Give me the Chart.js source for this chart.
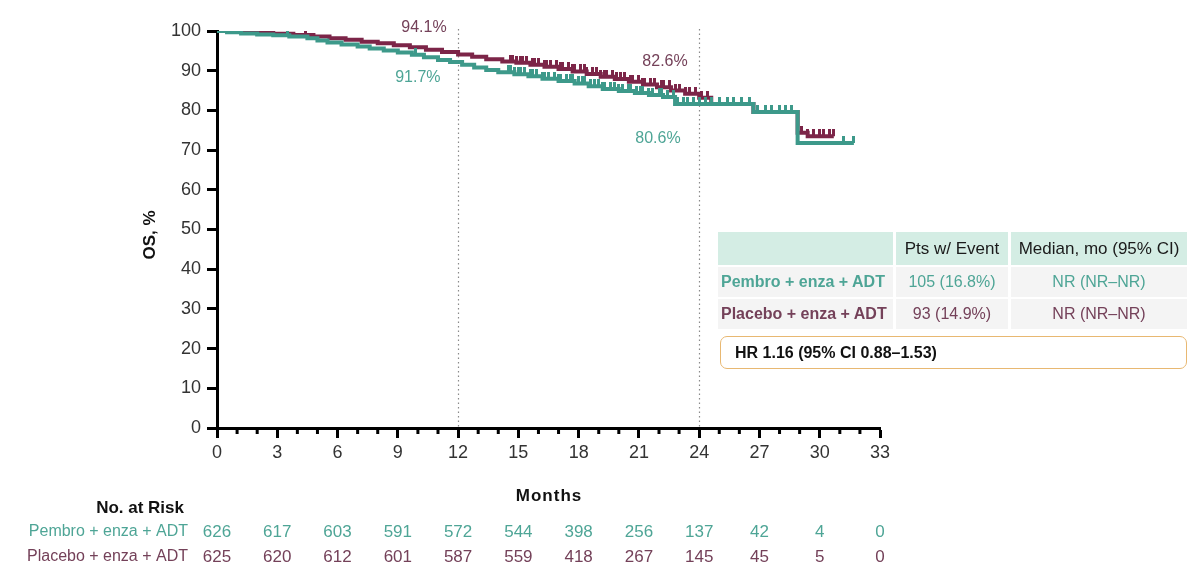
<!DOCTYPE html>
<html>
<head>
<meta charset="utf-8">
<script src="https://cdn.jsdelivr.net/npm/chart.js@4.4.1/dist/chart.umd.min.js"></script>
<style>
    body { margin: 0; background: #fff; font-family: "Liberation Sans", Arial, sans-serif; }
    #wrap { position: relative; width: 1200px; height: 574px; }
    #stats { position: absolute; left: 718px; top: 232px; width: 469px; }
    #stats table { border-collapse: separate; border-spacing: 3px 2px; margin: -2px -3px; font-size: 16px; }
    #stats th { background: #d4ede4; font-weight: normal; color: #1a1a1a; height: 33px; padding: 0; font-size: 17px; }
    #stats td { background: #f4f4f4; height: 30px; padding: 0; text-align: center; }
    #stats td.arm { text-align: left; font-weight: bold; padding-left: 3px; }
    #hr { margin-top: 7px; border: 1.5px solid #e8b872; border-radius: 7px; height: 31px; line-height: 31px;
          padding-left: 14px; font-weight: bold; font-size: 16px; color: #111; margin-left: 2px; }
</style>
</head>
<body>
<div id="wrap">
    <canvas id="km" width="1200" height="574"></canvas>
    <div id="stats"></div>
</div>
<script>
// --- data ---
const pembroMonths = [0, 0.5, 1.2, 2.0, 2.8, 3.6, 4.5, 5.0, 5.5, 6.2, 7.0, 7.6, 8.3, 9.0, 9.7, 10.3, 11.0, 11.6, 12.2, 12.8,
    13.4, 14.0, 14.8, 15.5, 16.2, 17.0, 17.8, 18.5, 19.2, 20.0, 20.8, 21.5, 22.2, 22.8, 26.7, 28.9, 31.7];
const pembroOS = [100, 99.7, 99.4, 99.1, 98.9, 98.6, 98.2, 97.6, 97.1, 96.6, 96.1, 95.6, 95.1, 94.6, 94.0, 93.4, 92.7, 92.2, 91.5, 90.8,
    90.2, 89.6, 89.1, 88.6, 88.0, 87.4, 86.8, 86.1, 85.4, 84.9, 84.4, 83.9, 83.4, 81.6, 79.6, 71.8, 71.8];
const placeboMonths = [0, 0.8, 1.8, 2.8, 3.8, 4.8, 5.6, 6.4, 7.2, 8.0, 8.8, 9.6, 10.4, 11.2, 12.0, 12.7, 13.4, 14.2, 14.9,
    15.6, 16.3, 17.0, 17.7, 18.4, 19.1, 19.8, 20.5, 21.2, 21.9, 22.6, 23.3, 24.0, 24.6, 26.7, 28.9, 29.4, 30.7];
const placeboOS = [100, 99.8, 99.6, 99.3, 99.0, 98.6, 98.2, 97.8, 97.3, 96.9, 96.4, 95.9, 95.3, 94.7, 94.1, 93.5, 92.9, 92.3, 92.0,
    91.5, 91.0, 90.4, 89.8, 89.2, 88.5, 87.9, 87.2, 86.5, 85.8, 85.0, 84.2, 83.2, 81.6, 79.6, 74.4, 73.5, 73.5];

// censoring marks (dense from ~14.5 months on)
const pembroCensor = [3.5, 9.9, 14.5, 14.6, 14.8, 15.0, 15.1, 15.3, 15.6, 15.7, 15.9, 16.2, 16.3, 16.5, 16.8, 17.0, 17.1,
    17.4, 17.6, 17.7, 18.0, 18.2, 18.3, 18.6, 18.8, 19.0, 19.2, 19.3, 19.6, 19.8, 20.0, 20.2, 20.5, 20.6, 20.9, 21.1, 21.2,
    21.5, 21.7, 22.0, 22.1, 22.4, 22.7, 22.9, 23.2, 23.4, 23.7, 24.0, 24.3, 24.6, 25.0, 25.4, 25.7, 26.1, 26.5, 26.9,
    27.3, 27.6, 28.0, 28.3, 28.6, 31.2, 31.7];
const placeboCensor = [4.4, 14.6, 14.7, 14.9, 15.1, 15.2, 15.4, 15.7, 15.8, 16.0, 16.3, 16.4, 16.6, 16.9, 17.1, 17.2,
    17.5, 17.7, 17.8, 18.1, 18.3, 18.4, 18.7, 18.9, 19.1, 19.3, 19.4, 19.7, 19.9, 20.1, 20.3, 20.6, 20.7, 21.0, 21.2,
    21.3, 21.6, 21.8, 22.1, 22.2, 22.5, 22.8, 23.0, 23.3, 23.5, 23.8, 24.1, 24.4, 29.1, 29.4, 29.7, 30.0, 30.2, 30.5, 30.7];

const riskMonths = [0, 3, 6, 9, 12, 15, 18, 21, 24, 27, 30, 33];
const riskPembro = [626, 617, 603, 591, 572, 544, 398, 256, 137, 42, 4, 0];
const riskPlacebo = [625, 620, 612, 601, 587, 559, 418, 267, 145, 45, 5, 0];

const armNames = ['Pembro + enza + ADT', 'Placebo + enza + ADT'];
const armEvents = ['105 (16.8%)', '93 (14.9%)'];
const armMedian = ['NR (NR\u2013NR)', 'NR (NR\u2013NR)'];
const hrText = 'HR 1.16 (95% CI 0.88\u20131.53)';

const TEAL = '#3d998a';
const MAROON = '#7c2548';
const TEAL_TXT = '#4ea596';
const MAROON_TXT = '#744159';
const FONT = '"Liberation Sans", Arial, sans-serif';

// stats box
let html = '<table><tr><th style="width:175px"></th><th style="width:112px">Pts w/ Event</th><th style="width:176px">Median, mo (95% CI)</th></tr>';
armNames.forEach((name, i) => {
    const c = i === 0 ? TEAL_TXT : MAROON_TXT;
    html += `<tr style="color:${c}"><td class="arm">${name}</td><td>${armEvents[i]}</td><td>${armMedian[i]}</td></tr>`;
});
html += `</table><div id="hr">${hrText}</div>`;
document.getElementById('stats').innerHTML = html;

// value of the KM step function at time t
function stepAt(months, vals, t) {
    let v = vals[0];
    for (let i = 0; i < months.length; i++) { if (months[i] <= t) v = vals[i]; }
    return v;
}

// upward censor tick
function tickMark(color) {
    const c = document.createElement('canvas');
    c.width = 3; c.height = 14;
    const g = c.getContext('2d');
    g.fillStyle = color;
    g.fillRect(0, 0, 3, 7);
    return c;
}

const kmPlugin = {
    id: 'kmExtras',
    beforeDatasetsDraw(chart) {
        const { ctx, scales: { x, y } } = chart;
        ctx.save();
        ctx.strokeStyle = '#8a8a8a';
        ctx.lineWidth = 1.2;
        ctx.setLineDash([1.5, 3]);
        [12, 24].forEach(m => {
            const px = Math.round(x.getPixelForValue(m)) + 0.5;
            ctx.beginPath();
            ctx.moveTo(px, y.getPixelForValue(100.5));
            ctx.lineTo(px, y.getPixelForValue(0));
            ctx.stroke();
        });
        ctx.restore();
    },
    afterDraw(chart) {
        const { ctx, scales: { x, y } } = chart;
        ctx.save();
        // minor ticks
        ctx.fillStyle = '#000';
        const y0 = y.getPixelForValue(0);
        for (let m = 1; m < 33; m++) {
            if (m % 3 === 0) continue;
            const px = x.getPixelForValue(m);
            ctx.fillRect(px - 1.5, y0, 3, 6);
        }
        // percentage labels
        ctx.font = '16px ' + FONT;
        ctx.textAlign = 'center';
        ctx.textBaseline = 'middle';
        [['94.1%', 10.3, 100.8, MAROON_TXT], ['91.7%', 10.0, 88.2, TEAL_TXT],
         ['82.6%', 22.3, 92.4, MAROON_TXT], ['80.6%', 21.95, 73.0, TEAL_TXT]].forEach(l => {
            ctx.fillStyle = l[3];
            ctx.fillText(l[0], x.getPixelForValue(l[1]), y.getPixelForValue(l[2]));
        });
        // axis titles
        ctx.fillStyle = '#111';
        ctx.font = 'bold 17px ' + FONT;
        ctx.save();
        ctx.translate(150, 235);
        ctx.rotate(-Math.PI / 2);
        ctx.fillText('OS, %', 0, 0);
        ctx.restore();
        ctx.letterSpacing = '1px';
        ctx.fillText('Months', 549, 496);
        ctx.letterSpacing = '0px';
        // at-risk table
        ctx.textAlign = 'right';
        ctx.fillText('No. at Risk', 184, 508);
        ctx.font = '16px ' + FONT;
        ctx.fillStyle = TEAL_TXT;
        ctx.fillText(armNames[0], 188, 532);
        ctx.fillStyle = MAROON_TXT;
        ctx.fillText(armNames[1], 188, 557);
        ctx.font = '17px ' + FONT;
        ctx.textAlign = 'center';
        riskMonths.forEach((m, i) => {
            const px = x.getPixelForValue(m);
            ctx.fillStyle = TEAL_TXT;
            ctx.fillText(String(riskPembro[i]), px, 532);
            ctx.fillStyle = MAROON_TXT;
            ctx.fillText(String(riskPlacebo[i]), px, 557);
        });
        ctx.restore();
    }
};

const axisCommon = {
    border: { display: true, color: '#000', width: 3 },
    grid: { drawOnChartArea: false, drawTicks: true, tickLength: 10, tickWidth: 3, tickColor: '#000' },
};

new Chart(document.getElementById('km'), {
    type: 'line',
    data: {
        datasets: [
            {
                label: armNames[0],
                data: pembroMonths.map((m, i) => ({ x: m, y: pembroOS[i] })),
                borderColor: TEAL, borderWidth: 4, stepped: true, pointRadius: 0, fill: false, order: 1
            },
            {
                type: 'scatter',
                data: pembroCensor.map(m => ({ x: m, y: stepAt(pembroMonths, pembroOS, m) })),
                pointStyle: tickMark(TEAL), pointRadius: 4, showLine: false, order: 2
            },
            {
                label: armNames[1],
                data: placeboMonths.map((m, i) => ({ x: m, y: placeboOS[i] })),
                borderColor: MAROON, borderWidth: 4, stepped: true, pointRadius: 0, fill: false, order: 3
            },
            {
                type: 'scatter',
                data: placeboCensor.map(m => ({ x: m, y: stepAt(placeboMonths, placeboOS, m) })),
                pointStyle: tickMark(MAROON), pointRadius: 4, showLine: false, order: 4
            }
        ]
    },
    options: {
        responsive: false,
        animation: false,
        devicePixelRatio: 1,
        layout: { padding: { top: 31, right: 320, bottom: 106, left: 0 } },
        plugins: { legend: { display: false }, tooltip: { enabled: false } },
        scales: {
            x: {
                ...axisCommon,
                type: 'linear', min: 0, max: 33,
                ticks: { stepSize: 3, color: '#333', font: { size: 18, family: FONT }, padding: 4 },
                afterFit: s => { s.height = 40; }
            },
            y: {
                ...axisCommon,
                min: 0, max: 100,
                ticks: { stepSize: 10, color: '#333', font: { size: 18, family: FONT }, padding: 6 },
                afterFit: s => { s.width = 217; }
            }
        }
    },
    plugins: [kmPlugin]
});
</script>
</body>
</html>
